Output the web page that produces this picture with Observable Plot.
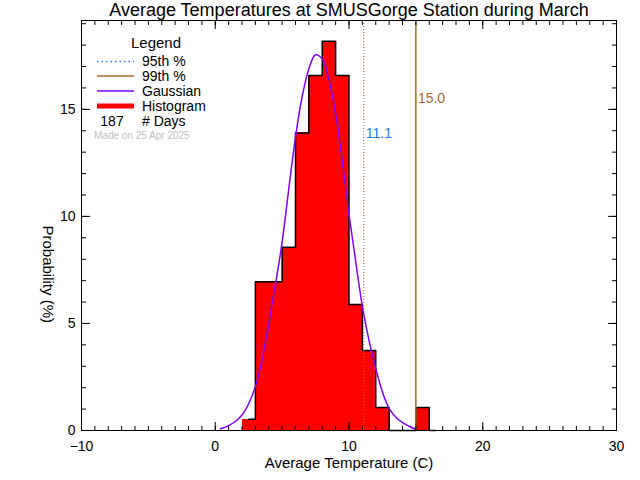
<!DOCTYPE html>
<html><head><meta charset="utf-8">
<script src="https://cdn.jsdelivr.net/npm/d3@7"></script>
<script src="https://cdn.jsdelivr.net/npm/@observablehq/plot@0.6"></script>
<style>html,body{margin:0;padding:0;background:#fff} #chart svg{display:block}</style>
</head><body><div id="chart"></div>
<script>
// ---- data ----
const titleText = "Average Temperatures at SMUSGorge Station during March";
const xLabel = "Average Temperature (C)";
const yLabel = "Probability (%)";
const binLeft = [2, 3, 4, 5, 6, 7, 8, 9, 10, 11, 12, 13, 14, 15, 16];
const binProb = [0.53, 6.95, 6.95, 8.56, 13.90, 16.58, 18.18, 16.58, 5.88, 3.74, 1.07, 0, 0, 1.07, 0];
const gaussX = [0.4, 1, 1.5, 2, 2.5, 3, 3.5, 4, 4.5, 5, 5.5, 6, 6.5, 7, 7.5, 8, 8.5, 9, 9.5, 10, 10.5, 11, 11.5, 12, 12.5, 13, 13.5, 14, 14.5, 14.9];
const gaussY = [0.08, 0.23, 0.42, 0.72, 1.25, 2.05, 3.3, 5.0, 6.8, 8.8, 11.3, 13.7, 15.6, 16.9, 17.55, 17.35, 16.4, 14.8, 12.6, 10.1, 7.9, 5.8, 4.2, 2.9, 1.8, 1.03, 0.62, 0.37, 0.2, 0.08];
const pctNames = ["95th %", "99th %"];
const pctValues = [11.1, 15.0];
const pctLabels = ["11.1", "15.0"];
const xTicks = [-10, 0, 10, 20, 30];
const yTicks = [0, 5, 10, 15];
const nDays = 187;
const madeOn = "Made on 25 Apr 2025";

// ---- styling ----
const FONT = "'Liberation Sans', Arial, sans-serif";
const RED = "#FF0000", PURPLE = "#7F00FF", BROWN = "#A8682C", DOTBROWN = "#A07048", BLUE = "#1E78E6";

const bins = binLeft.map((l, i) => ({x1: l, x2: l + 1, xc: l + 0.5, p: binProb[i]}));
const gauss = gaussX.map((x, i) => ({x, y: gaussY[i]}));
const xMinor = d3.range(-10, 31, 1);
const yMinor = d3.range(0, 20, 1);
const blank = () => "";

const plot = Plot.plot({
  width: 640, height: 480,
  marginLeft: 81, marginRight: 24, marginTop: 20, marginBottom: 50,
  style: {fontFamily: FONT, fontSize: "14px", background: "#fff", color: "#000"},
  x: {domain: [-10, 30]},
  y: {domain: [0, 19.15]},
  marks: [
    Plot.rectY(bins.filter(d => d.p > 0), {x1: "x1", x2: "x2", y: "p", fill: RED, shapeRendering: "crispEdges"}),
    Plot.line(bins, {x: "xc", y: "p", curve: "step", stroke: "#000", strokeWidth: 1.5}),
    Plot.line(gauss, {x: "x", y: "y", curve: "catmull-rom", stroke: PURPLE, strokeWidth: 1.5}),
    Plot.ruleX([pctValues[0]], {stroke: DOTBROWN, strokeWidth: 1, strokeDasharray: "1,2"}),
    Plot.ruleX([pctValues[1]], {stroke: BROWN, strokeWidth: 1.5}),
    Plot.text([pctLabels[0]], {x: () => pctValues[0], frameAnchor: "top", lineAnchor: "middle", dy: 113, dx: 2, textAnchor: "start", fill: BLUE, fontSize: 14}),
    Plot.text([pctLabels[1]], {x: () => pctValues[1], frameAnchor: "top", lineAnchor: "middle", dy: 78, dx: 2, textAnchor: "start", fill: BROWN, fontSize: 14}),
    Plot.frame({stroke: "#000"}),
    // axes: ticks pointing inward on all four sides
    Plot.axisX(xMinor, {anchor: "bottom", tickSize: -4, tickFormat: blank, label: null}),
    Plot.axisX(xTicks, {anchor: "bottom", tickSize: -8, tickPadding: 19, label: null, fontSize: 14}),
    Plot.axisX(xMinor, {anchor: "top", tickSize: -4, tickFormat: blank, label: null}),
    Plot.axisX(xTicks, {anchor: "top", tickSize: -8, tickFormat: blank, label: null}),
    Plot.axisY(yMinor, {anchor: "left", tickSize: -5, tickFormat: blank, label: null}),
    Plot.axisY(yTicks, {anchor: "left", tickSize: -9, tickPadding: 15, label: null, fontSize: 14}),
    Plot.axisY(yMinor, {anchor: "right", tickSize: -5, tickFormat: blank, label: null}),
    Plot.axisY(yTicks, {anchor: "right", tickSize: -9, tickFormat: blank, label: null}),
    Plot.text([xLabel], {frameAnchor: "bottom", lineAnchor: "middle", dy: 33, fontSize: 15}),
    Plot.text([yLabel], {frameAnchor: "left", lineAnchor: "middle", dx: -34, rotate: 90, fontSize: 15}),
    Plot.text([titleText], {frameAnchor: "top", lineAnchor: "middle", dy: -10, fontSize: 18})
  ]
});

// legend inside the plot area (top-left)
const svg = d3.select(plot);
const g = svg.append("g").attr("font-family", FONT).attr("font-size", 14).attr("fill", "#000").attr("text-anchor", "start");
g.append("text").attr("x", 156).attr("y", 43).attr("text-anchor", "middle").attr("dy", "0.35em").attr("font-size", 15).text("Legend");
const rows = [
  {label: pctNames[0], stroke: BLUE, w: 1.5, dash: "1.5,3", y: 61.5},
  {label: pctNames[1], stroke: BROWN, w: 1.5, dash: null, y: 76},
  {label: "Gaussian", stroke: PURPLE, w: 1.5, dash: null, y: 91},
  {label: "Histogram", stroke: RED, w: 5, dash: null, y: 106}
];
rows.forEach(r => {
  g.append("line").attr("x1", 97).attr("x2", 134).attr("y1", r.y).attr("y2", r.y)
    .attr("stroke", r.stroke).attr("stroke-width", r.w).attr("stroke-dasharray", r.dash);
  g.append("text").attr("x", 142).attr("y", r.y).attr("dy", "0.35em").attr("text-anchor", "start").text(r.label);
});
g.append("text").attr("x", 112).attr("y", 121).attr("dy", "0.35em").attr("text-anchor", "middle").text(String(nDays));
g.append("text").attr("x", 142).attr("y", 121).attr("dy", "0.35em").attr("text-anchor", "start").text("# Days");
g.append("text").attr("x", 94).attr("y", 135).attr("dy", "0.35em").attr("text-anchor", "start").attr("font-size", 10).attr("fill", "#C0C0C0").text(madeOn);

document.getElementById("chart").appendChild(plot);
</script>
</body></html>
